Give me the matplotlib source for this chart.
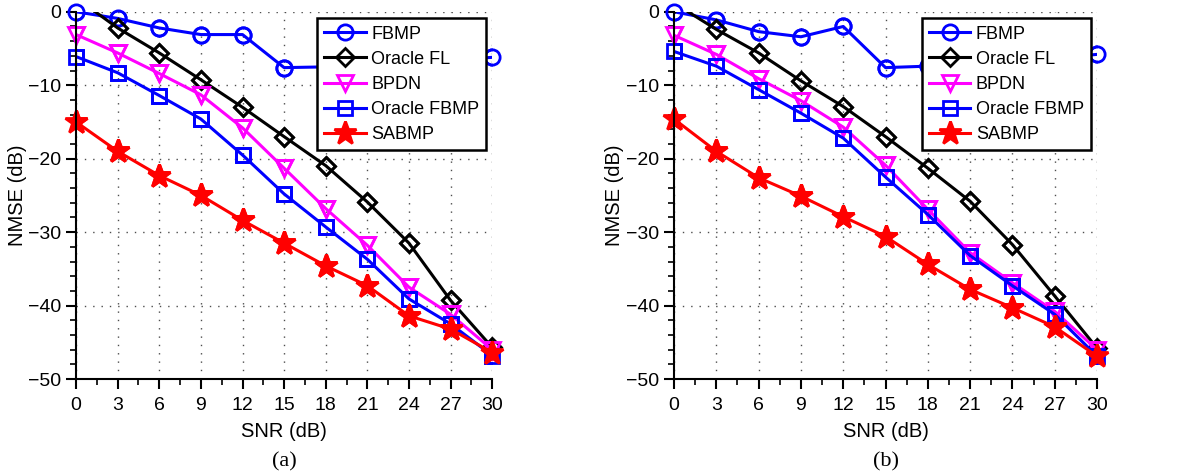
import matplotlib
matplotlib.use('agg')
import numpy as np
import matplotlib.pyplot as plt
from matplotlib.ticker import MultipleLocator

plt.rcParams['font.family'] = ['Liberation Sans', 'DejaVu Sans']

snr = [0, 3, 6, 9, 12, 15, 18, 21, 24, 27, 30]

# panel (a)
fbmp_a = [0.0, -0.9, -2.2, -3.1, -3.1, -7.6, -7.5, -7.2, -6.9, -6.6, -6.2]
oracle_fl_a = [1.9, -2.2, -5.6, -9.25, -13.0, -17.0, -20.95, -25.9, -31.5, -39.3, -45.7]
bpdn_a = [-3.1, -5.6, -8.4, -11.3, -15.8, -21.3, -26.8, -31.8, -37.5, -41.2, -46.0]
oracle_fbmp_a = [-6.1, -8.3, -11.4, -14.6, -19.5, -24.8, -29.3, -33.7, -39.1, -42.5, -46.8]
sabmp_a = [-15.0, -19.0, -22.3, -25.0, -28.4, -31.5, -34.6, -37.3, -41.4, -43.2, -46.4]

# panel (b)
fbmp_b = [0.0, -1.1, -2.7, -3.4, -2.0, -7.6, -7.4, -7.1, -6.7, -6.3, -5.8]
oracle_fl_b = [1.2, -2.4, -5.6, -9.4, -12.9, -17.0, -21.3, -25.8, -31.7, -38.7, -45.8]
bpdn_b = [-3.2, -5.8, -9.1, -12.1, -15.7, -20.9, -26.9, -32.8, -36.9, -40.8, -46.0]
oracle_fbmp_b = [-5.4, -7.4, -10.6, -13.8, -17.2, -22.5, -27.6, -33.2, -37.3, -41.2, -46.9]
sabmp_b = [-14.6, -19.0, -22.6, -25.1, -27.9, -30.6, -34.4, -37.8, -40.3, -42.9, -46.9]

labels = ['FBMP', 'Oracle FL', 'BPDN', 'Oracle FBMP', 'SABMP']
colors = ['#0000ff', 'black', '#ff00ff', '#0000ff', '#ff0000']
markers = ['o', 'D', 'v', 's', '*']
msizes = [11, 9, 11, 10, 17]
fills = ['none', 'none', 'none', 'none', 'full']

fig = plt.figure(figsize=(11.79, 4.72), dpi=100)
ax_a = fig.add_axes([0.0645, 0.197, 0.353, 0.778])
ax_b = fig.add_axes([0.5717, 0.197, 0.3588, 0.778])


def draw(ax, series, tag):
    for y, lab, c, m, ms, f in zip(series, labels, colors, markers, msizes, fills):
        fc = c if f == 'full' else 'none'
        ax.plot(snr, y, color=c, lw=2.2, marker=m, markersize=ms,
                markerfacecolor=fc, markeredgecolor=c, markeredgewidth=2,
                label=lab)
        # markers of in-range points are drawn whole, like MATLAB does
        yin = np.ma.masked_outside(np.array(y), -50, 0)
        ax.plot(snr, yin, linestyle='none', marker=m, markersize=ms,
                markerfacecolor=fc, markeredgecolor=c, markeredgewidth=2,
                clip_on=False)
    ax.set_xlim(0, 30)
    ax.set_ylim(-50, 0)
    ax.xaxis.set_major_locator(MultipleLocator(3))
    ax.xaxis.set_minor_locator(MultipleLocator(1.5))
    ax.yaxis.set_major_locator(MultipleLocator(10))
    ax.yaxis.set_minor_locator(MultipleLocator(2))
    ax.spines['top'].set_visible(False)
    ax.spines['right'].set_visible(False)
    ax.spines['left'].set_linewidth(1.5)
    ax.spines['bottom'].set_linewidth(1.5)
    ax.tick_params(which='major', direction='out', length=7, width=1.5,
                   labelsize=14, pad=6)
    ax.tick_params(axis='y', which='major', pad=4)
    ax.tick_params(which='minor', direction='out', length=4, width=1.2)
    ax.grid(True, which='major', color='0.3', lw=1.0, linestyle=(0, (1, 5)))
    ax.set_axisbelow(True)
    ax.set_xlabel('SNR (dB)', fontsize=14.5, labelpad=6)
    ax.set_ylabel('NMSE (dB)', fontsize=14.5)
    ax.yaxis.set_label_coords(-0.118, 0.5)
    leg = ax.legend(loc='upper right', bbox_to_anchor=(0.986, 0.982), fontsize=13,
                    frameon=True, fancybox=False, framealpha=1, edgecolor='black',
                    handlelength=2.3, handletextpad=0.3, labelspacing=0.45,
                    borderpad=0.4, borderaxespad=0)
    leg.get_frame().set_linewidth(1.8)
    ax.text(0.5, -0.225, tag, transform=ax.transAxes, ha='center', va='center',
            fontsize=16, family='Liberation Serif')


draw(ax_a, [fbmp_a, oracle_fl_a, bpdn_a, oracle_fbmp_a, sabmp_a], '(a)')
draw(ax_b, [fbmp_b, oracle_fl_b, bpdn_b, oracle_fbmp_b, sabmp_b], '(b)')

fig.savefig('out.png', dpi=100)
